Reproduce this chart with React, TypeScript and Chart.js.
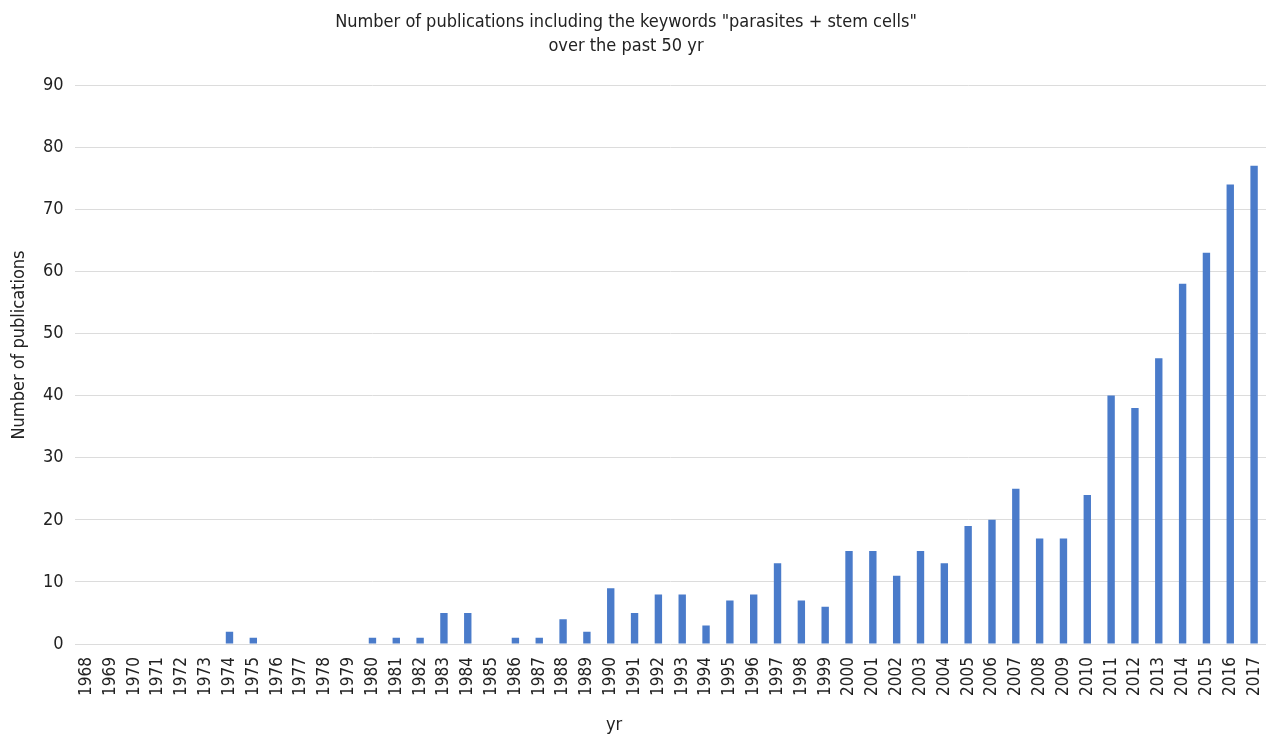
import React, { useEffect, useRef } from "react";
import { Chart, registerables } from "chart.js";

Chart.register(...registerables);

const years: string[] = [
  "1968", "1969", "1970", "1971", "1972", "1973", "1974", "1975", "1976", "1977",
  "1978", "1979", "1980", "1981", "1982", "1983", "1984", "1985", "1986", "1987",
  "1988", "1989", "1990", "1991", "1992", "1993", "1994", "1995", "1996", "1997",
  "1998", "1999", "2000", "2001", "2002", "2003", "2004", "2005", "2006", "2007",
  "2008", "2009", "2010", "2011", "2012", "2013", "2014", "2015", "2016", "2017",
];

const publications: number[] = [
  0, 0, 0, 0, 0, 0, 2, 1, 0, 0,
  0, 0, 1, 1, 1, 5, 5, 0, 1, 1,
  4, 2, 9, 5, 8, 8, 3, 7, 8, 13,
  7, 6, 15, 15, 11, 15, 13, 19, 20, 25,
  17, 17, 24, 40, 38, 46, 58, 63, 74, 77,
];

const titleLines: string[] = [
  'Number of publications including the keywords "parasites + stem cells"',
  "over the past 50 yr",
];

const xAxisTitle = "yr";
const yAxisTitle = "Number of publications";

const FONT = "Tahoma, 'DejaVu Sans Condensed', 'DejaVu Sans', sans-serif";

const textPlugin = {
  id: "offsetTexts",
  afterDraw(chart: any) {
    const ctx = chart.ctx as CanvasRenderingContext2D;
    ctx.save();
    ctx.font = `18px ${FONT}`;
    ctx.fillStyle = "#222";
    ctx.textAlign = "center";
    ctx.textBaseline = "middle";
    const cx = chart.width / 2 - 7;
    titleLines.forEach((line, i) => {
      ctx.fillText(line, cx, 22 + i * 24);
    });
    ctx.fillText(xAxisTitle, chart.width / 2 - 19, chart.height - 10);
    ctx.translate(19, 345);
    ctx.rotate(-Math.PI / 2);
    ctx.fillText(yAxisTitle, 0, 0);
    ctx.restore();
  },
};

export default function App() {
  const ref = useRef<HTMLCanvasElement | null>(null);

  useEffect(() => {
    if (!ref.current) return;
    const chart = new Chart(ref.current, {
      type: "bar",
      data: {
        labels: years,
        datasets: [
          {
            label: "Publications",
            data: publications,
            backgroundColor: "#4a7bca",
            borderWidth: 0,
            categoryPercentage: 1,
            barPercentage: 0.31,
          },
        ],
      },
      plugins: [textPlugin],
      options: {
        animation: false,
        responsive: false,
        maintainAspectRatio: false,
        layout: { padding: { left: 32, right: 0, top: 85, bottom: 34 } },
        plugins: {
          legend: { display: false },
          tooltip: { enabled: false },
          title: { display: false },
        },
        scales: {
          x: {
            grid: { display: false },
            border: { display: false },
            afterFit(scale: any) {
              scale.paddingRight = 0;
            },
            ticks: {
              color: "#222",
              font: { family: FONT, size: 17 },
              minRotation: 90,
              maxRotation: 90,
              autoSkip: false,
              padding: 5,
            },
          },
          y: {
            min: 0,
            max: 90,
            grid: { color: "#dcdcdc", lineWidth: 1, drawTicks: false },
            border: { display: false },
            ticks: {
              stepSize: 10,
              color: "#222",
              font: { family: FONT, size: 18 },
              padding: 11,
            },
          },
        },
      },
    });
    return () => chart.destroy();
  }, []);

  return (
    <div style={{ position: "fixed", left: 0, top: 0, width: 1266, height: 735, background: "#fff" }}>
      <canvas ref={ref} width={1266} height={735} style={{ display: "block" }} />
    </div>
  );
}
